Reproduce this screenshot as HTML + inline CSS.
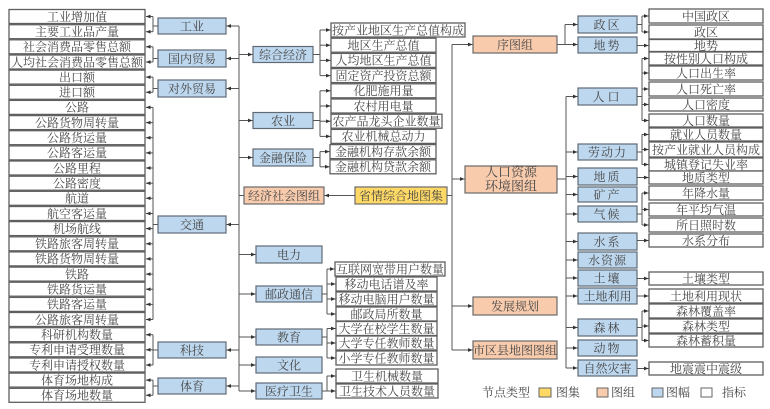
<!DOCTYPE html>
<html><head><meta charset="utf-8">
<style>
html,body{margin:0;padding:0;background:#fff;}
svg{display:block;}
text{font-family:"Liberation Serif","Noto Serif CJK SC","Noto Sans CJK SC",serif;font-size:12px;fill:#474747;text-anchor:middle;}
.i rect{fill:#fff;stroke:#5f5f5f;stroke-width:1.3;}
.b rect{fill:#BDD7EE;stroke:#5f6a75;stroke-width:1.2;}
.o rect{fill:#F8CBAD;stroke:#6a6a6a;stroke-width:1.2;}
.y rect{fill:#FFD966;stroke:#6a6a6a;stroke-width:1.2;}
.l path{fill:none;stroke:#555;stroke-width:1;}
.a path{fill:none;stroke:#555;stroke-width:1;marker-end:url(#ah);}
.lg text{text-anchor:start;}
</style></head><body>
<svg width="770" height="409" viewBox="0 0 770 409" xmlns="http://www.w3.org/2000/svg">
<defs><marker id="ah" viewBox="0 0 6 6" refX="6" refY="3" markerWidth="4.5" markerHeight="4.5" markerUnits="userSpaceOnUse" orient="auto"><path d="M0,0.5L6,3L0,5.5z" fill="#333"/></marker></defs>

<!-- LEFT INDICATORS -->
<g class="i">
<rect x="9" y="9.5" width="136" height="14"/><text x="77" y="20.8">工业增加值</text>
<rect x="9" y="24.7" width="136" height="14"/><text x="77" y="36">主要工业品产量</text>
<rect x="9" y="39.8" width="136" height="14"/><text x="77" y="51.1">社会消费品零售总额</text>
<rect x="9" y="55" width="136" height="14"/><text x="77" y="66.3">人均社会消费品零售总额</text>
<rect x="9" y="70.1" width="136" height="14"/><text x="77" y="81.4">出口额</text>
<rect x="9" y="85.3" width="136" height="14"/><text x="77" y="96.6">进口额</text>
<rect x="9" y="100.4" width="136" height="14"/><text x="77" y="111.7">公路</text>
<rect x="9" y="115.6" width="136" height="14"/><text x="77" y="126.9">公路货物周转量</text>
<rect x="9" y="130.7" width="136" height="14"/><text x="77" y="142">公路货运量</text>
<rect x="9" y="145.9" width="136" height="14"/><text x="77" y="157.2">公路客运量</text>
<rect x="9" y="161" width="136" height="14"/><text x="77" y="172.3">公路里程</text>
<rect x="9" y="176.2" width="136" height="14"/><text x="77" y="187.5">公路密度</text>
<rect x="9" y="191.3" width="136" height="14"/><text x="77" y="202.6">航道</text>
<rect x="9" y="206.5" width="136" height="14"/><text x="77" y="217.8">航空客运量</text>
<rect x="9" y="221.6" width="136" height="14"/><text x="77" y="232.9">机场航线</text>
<rect x="9" y="236.8" width="136" height="14"/><text x="77" y="248.1">铁路旅客周转量</text>
<rect x="9" y="251.9" width="136" height="14"/><text x="77" y="263.2">铁路货物周转量</text>
<rect x="9" y="267.1" width="136" height="14"/><text x="77" y="278.4">铁路</text>
<rect x="9" y="282.2" width="136" height="14"/><text x="77" y="293.5">铁路货运量</text>
<rect x="9" y="297.4" width="136" height="14"/><text x="77" y="308.7">铁路客运量</text>
<rect x="9" y="312.5" width="136" height="14"/><text x="77" y="323.8">公路旅客周转量</text>
<rect x="9" y="327.7" width="136" height="14"/><text x="77" y="339">科研机构数量</text>
<rect x="9" y="342.8" width="136" height="14"/><text x="77" y="354.1">专利申请受理数量</text>
<rect x="9" y="358" width="136" height="14"/><text x="77" y="369.3">专利申请授权数量</text>
<rect x="9" y="373.1" width="136" height="14"/><text x="77" y="384.4">体育场地构成</text>
<rect x="9" y="388.3" width="136" height="14"/><text x="77" y="399.6">体育场地数量</text>
</g>

<!-- LEFT BRACKETS -->
<g class="l"><path d="M153 16.5V31.7M158 26H153M153 46.8V62M158 58.5H153M153 77.1V92.3M158 88.5H153M153 107.4V319.5M158 224.5H153M153 334.7V365M158 350H153M153 380.1V395.3M158 386H153"/></g>
<g class="a">
<path d="M153 16.5H146"/><path d="M153 31.7H146"/><path d="M153 46.8H146"/><path d="M153 62H146"/><path d="M153 77.1H146"/><path d="M153 92.3H146"/>
<path d="M153 107.4H146"/><path d="M153 122.6H146"/><path d="M153 137.7H146"/><path d="M153 152.9H146"/><path d="M153 168H146"/><path d="M153 183.2H146"/><path d="M153 198.3H146"/><path d="M153 213.5H146"/><path d="M153 228.6H146"/><path d="M153 243.8H146"/><path d="M153 258.9H146"/><path d="M153 274.1H146"/><path d="M153 289.2H146"/><path d="M153 304.4H146"/><path d="M153 319.5H146"/>
<path d="M153 334.7H146"/><path d="M153 349.8H146"/><path d="M153 365H146"/><path d="M153 380.1H146"/><path d="M153 395.3H146"/>
</g>

<!-- LEFT CATEGORIES -->
<g class="b">
<rect x="158" y="18" width="68" height="16"/><text x="192" y="30.3">工业</text>
<rect x="158" y="50" width="68" height="17"/><text x="192" y="62.8">国内贸易</text>
<rect x="158" y="80" width="68" height="17"/><text x="192" y="92.8">对外贸易</text>
<rect x="158" y="216" width="68" height="17"/><text x="192" y="228.8">交通</text>
<rect x="158" y="342" width="68" height="16"/><text x="192" y="354.3">科技</text>
<rect x="158" y="378" width="68" height="16"/><text x="192" y="390.3">体育</text>
</g>

<!-- ECONOMY TRUNK -->
<g class="l"><path d="M239 26V391M239 195.5H244"/></g>
<g class="a">
<path d="M239 26H226.5"/><path d="M239 58.5H226.5"/><path d="M239 88.5H226.5"/><path d="M239 224.5H226.5"/><path d="M239 350H226.5"/><path d="M239 386H226.5"/>
<path d="M239 54.5H252.5"/><path d="M239 120.5H252.5"/><path d="M239 157.5H252.5"/><path d="M239 254.5H255.5"/><path d="M239 294H255.5"/><path d="M239 337H255.5"/><path d="M239 365H255.5"/><path d="M239 391H255.5"/>
</g>

<!-- MIDDLE CATEGORIES -->
<g class="b">
<rect x="253" y="46.5" width="60" height="16"/><text x="283" y="58.8">综合经济</text>
<rect x="253" y="112.5" width="60" height="16"/><text x="283" y="124.8">农业</text>
<rect x="253" y="149" width="60" height="17"/><text x="283" y="161.8">金融保险</text>
<rect x="256" y="246" width="66" height="17"/><text x="289" y="258.8">电力</text>
<rect x="256" y="286" width="66" height="16"/><text x="289" y="298.3">邮政通信</text>
<rect x="256" y="329" width="66" height="16"/><text x="289" y="341.3">教育</text>
<rect x="256" y="357" width="66" height="16"/><text x="289" y="369.3">文化</text>
<rect x="256" y="383" width="66" height="16"/><text x="289" y="395.3">医疗卫生</text>
</g>

<!-- GROUP A INDICATORS -->
<g class="i">
<rect x="331" y="23" width="134" height="14"/><text x="398" y="34.3">按产业地区生产总值构成</text>
<rect x="331" y="38.2" width="105" height="14"/><text x="383.5" y="49.5">地区生产总值</text>
<rect x="331" y="53.4" width="105" height="14"/><text x="383.5" y="64.7">人均地区生产总值</text>
<rect x="331" y="68.6" width="105" height="14"/><text x="383.5" y="79.9">固定资产投资总额</text>
<rect x="331" y="83.8" width="105" height="14"/><text x="383.5" y="95.1">化肥施用量</text>
<rect x="331" y="99" width="105" height="14"/><text x="383.5" y="110.3">农村用电量</text>
<rect x="331" y="114.2" width="111" height="14"/><text x="386.5" y="125.5">农产品龙头企业数量</text>
<rect x="331" y="129.4" width="105" height="14"/><text x="383.5" y="140.7">农业机械总动力</text>
<rect x="330" y="144.6" width="106" height="14"/><text x="383" y="155.9">金融机构存款余额</text>
<rect x="330" y="159.8" width="106" height="14"/><text x="383" y="171.1">金融机构贷款余额</text>
</g>
<g class="l"><path d="M313 54.5H320M320 30V75.6M313 120.5H320M320 90.8V136.4M313 157.5H320M320 151.6V166.8"/></g>
<g class="a">
<path d="M320 30H330.5"/><path d="M320 45.2H330.5"/><path d="M320 60.4H330.5"/><path d="M320 75.6H330.5"/>
<path d="M320 90.8H330.5"/><path d="M320 106H330.5"/><path d="M320 121.2H330.5"/><path d="M320 136.4H330.5"/>
<path d="M320 151.6H329.5"/><path d="M320 166.8H329.5"/>
</g>

<!-- GROUP B INDICATORS -->
<g class="i">
<rect x="335" y="262" width="110" height="14"/><text x="390" y="273.3">互联网宽带用户数量</text>
<rect x="336" y="277" width="101" height="14"/><text x="386.5" y="288.3">移动电话谱及率</text>
<rect x="336" y="292" width="101" height="14"/><text x="386.5" y="303.3">移动电脑用户数量</text>
<rect x="336" y="307" width="101" height="14"/><text x="386.5" y="318.3">邮政局所数量</text>
<rect x="336" y="321.5" width="101" height="14"/><text x="386.5" y="332.8">大学在校学生数量</text>
<rect x="336" y="336" width="101" height="14"/><text x="386.5" y="347.3">大学专任教师数量</text>
<rect x="336" y="351" width="101" height="14"/><text x="386.5" y="362.3">小学专任教师数量</text>
<rect x="336" y="369" width="102" height="14"/><text x="387" y="380.3">卫生机械数量</text>
<rect x="336" y="384" width="102" height="14"/><text x="387" y="395.3">卫生技术人员数量</text>
</g>
<g class="l"><path d="M322 294H327M327 269V314M322 337H327M327 328.5V358M322 391H327M327 376V391"/></g>
<g class="a">
<path d="M327 269H334.5"/><path d="M327 284H335.5"/><path d="M327 299H335.5"/><path d="M327 314H335.5"/>
<path d="M327 328.5H335.5"/><path d="M327 343H335.5"/><path d="M327 358H335.5"/>
<path d="M327 376H335.5"/><path d="M327 391H335.5"/>
</g>

<!-- CENTER -->
<g class="o"><rect x="244" y="187" width="80" height="17"/><text x="284" y="199.8">经济社会图组</text></g>
<g class="y"><rect x="355" y="187" width="92" height="17"/><text x="401" y="199.8">省情综合地图集</text></g>
<g class="a"><path d="M355 195.5H324.5"/></g>
<g class="l"><path d="M447 195.5H452M452 44.5V350"/></g>
<g class="a"><path d="M452 44.5H472.5"/><path d="M452 179H464.5"/><path d="M452 306H472.5"/><path d="M452 350H472.5"/></g>

<g class="o">
<rect x="473" y="36" width="84" height="17"/><text x="515" y="48.8">序图组</text>
<rect x="465" y="166" width="92" height="27"/><text x="511" y="176.5" style="font-size:13px">人口资源</text><text x="511" y="190.5" style="font-size:13px">环境图组</text>
<rect x="473" y="297" width="84" height="18"/><text x="515" y="310.3">发展规划</text>
<rect x="473" y="341" width="84" height="18"/><text x="515" y="354.3">市区县地图图组</text>
</g>

<!-- RIGHT TRUNKS -->
<g class="l"><path d="M557 44.5H565M565 24.5V44.5M557 179H566M566 96.5V368"/></g>
<g class="a">
<path d="M565 24.5H577.5"/><path d="M565 44.5H577.5"/>
<path d="M566 96.5H577.5"/><path d="M566 152H577.5"/><path d="M566 176.5H577.5"/><path d="M566 194.5H577.5"/><path d="M566 214H577.5"/><path d="M566 241.5H577.5"/><path d="M566 260H577.5"/><path d="M566 278H577.5"/><path d="M566 296H577.5"/><path d="M566 327.5H577.5"/><path d="M566 348H577.5"/><path d="M566 368H577.5"/>
</g>

<!-- RIGHT CATEGORIES -->
<g class="b">
<rect x="578" y="16" width="59" height="17"/><text x="607.5" y="28.8" style="letter-spacing:2px">政区</text>
<rect x="578" y="37" width="59" height="16"/><text x="607.5" y="49.3" style="letter-spacing:2px">地势</text>
<rect x="578" y="88" width="59" height="17"/><text x="607.5" y="100.8" style="letter-spacing:3px">人口</text>
<rect x="578" y="144" width="59" height="16"/><text x="607.5" y="156.3" style="letter-spacing:1px">劳动力</text>
<rect x="578" y="168" width="59" height="17"/><text x="607.5" y="180.8" style="letter-spacing:2px">地质</text>
<rect x="578" y="187" width="59" height="15"/><text x="607.5" y="198.8" style="letter-spacing:2px">矿产</text>
<rect x="578" y="206" width="59" height="16"/><text x="607.5" y="218.3" style="letter-spacing:2px">气候</text>
<rect x="578" y="233" width="59" height="17"/><text x="607.5" y="245.8" style="letter-spacing:2px">水系</text>
<rect x="578" y="252" width="59" height="16"/><text x="607.5" y="264.3" style="letter-spacing:1px">水资源</text>
<rect x="578" y="270" width="59" height="16"/><text x="607.5" y="282.3" style="letter-spacing:2px">土壤</text>
<rect x="578" y="288" width="59" height="16"/><text x="607.5" y="300.3">土地利用</text>
<rect x="578" y="319" width="59" height="17"/><text x="607.5" y="331.8" style="letter-spacing:2px">森林</text>
<rect x="578" y="340" width="59" height="16"/><text x="607.5" y="352.3" style="letter-spacing:2px">动物</text>
<rect x="578" y="360" width="59" height="16"/><text x="607.5" y="372.3">自然灾害</text>
</g>

<!-- RIGHT INDICATORS -->
<g class="i">
<rect x="649" y="9" width="114" height="14"/><text x="706" y="20.3">中国政区</text>
<rect x="649" y="25" width="114" height="14"/><text x="706" y="36.3">政区</text>
<rect x="649" y="39.5" width="114" height="12"/><text x="706" y="49.8">地势</text>
<rect x="649" y="52" width="114" height="13"/><text x="706" y="62.8">按性别人口构成</text>
<rect x="649" y="66" width="114" height="14"/><text x="706" y="77.3">人口出生率</text>
<rect x="649" y="82" width="114" height="14"/><text x="706" y="93.3">人口死亡率</text>
<rect x="649" y="98" width="114" height="13"/><text x="706" y="108.8">人口密度</text>
<rect x="649" y="114" width="114" height="13"/><text x="706" y="124.8">人口数量</text>
<rect x="649" y="128" width="114" height="13"/><text x="706" y="138.8">就业人员数量</text>
<rect x="649" y="142" width="114" height="15"/><text x="706" y="153.8">按产业就业人员构成</text>
<rect x="649" y="158" width="114" height="13"/><text x="706" y="168.8">城镇登记失业率</text>
<rect x="649" y="171" width="114" height="13"/><text x="706" y="181.8">地质类型</text>
<rect x="649" y="186" width="114" height="14"/><text x="706" y="197.3">年降水量</text>
<rect x="649" y="203" width="114" height="13"/><text x="706" y="213.8">年平均气温</text>
<rect x="649" y="218" width="114" height="14"/><text x="706" y="229.3">所日照时数</text>
<rect x="649" y="234" width="114" height="13"/><text x="706" y="244.8">水系分布</text>
<rect x="649" y="272" width="114" height="13"/><text x="706" y="282.8">土壤类型</text>
<rect x="649" y="289" width="114" height="14"/><text x="706" y="300.3">土地利用现状</text>
<rect x="649" y="304" width="114" height="14"/><text x="706" y="315.3">森林覆盖率</text>
<rect x="649" y="319" width="114" height="14"/><text x="706" y="330.3">森林类型</text>
<rect x="649" y="334" width="114" height="13"/><text x="706" y="344.8">森林蓄积量</text>
<rect x="649" y="362" width="114" height="13"/><text x="706" y="372.8">地震震中震级</text>
</g>
<g class="l"><path d="M637 24.5H642M642 16V32M637 96.5H642M642 58.5V120.5M637 152H642M642 134.5V164.5M637 214H642M642 193V225M637 327.5H642M642 311V340.5"/></g>
<g class="a">
<path d="M642 16H648.5"/><path d="M642 32H648.5"/>
<path d="M637 45.5H648.5"/>
<path d="M642 58.5H648.5"/><path d="M642 73H648.5"/><path d="M642 89H648.5"/><path d="M642 104.5H648.5"/><path d="M642 120.5H648.5"/>
<path d="M642 134.5H648.5"/><path d="M642 149.5H648.5"/><path d="M642 164.5H648.5"/>
<path d="M637 177.5H648.5"/>
<path d="M642 193H648.5"/><path d="M642 209.5H648.5"/><path d="M642 225H648.5"/>
<path d="M637 240.5H648.5"/>
<path d="M637 278.5H648.5"/>
<path d="M637 296H648.5"/>
<path d="M642 311H648.5"/><path d="M642 326H648.5"/><path d="M642 340.5H648.5"/>
<path d="M637 368.5H648.5"/>
</g>

<!-- LEGEND -->
<g class="lg">
<text x="482" y="396.5">节点类型</text>
<rect x="539" y="388" width="12" height="9" fill="#FFD966" stroke="#666" stroke-width="1"/>
<text x="556" y="396.5">图集</text>
<rect x="597" y="388" width="11" height="9" fill="#F8CBAD" stroke="#666" stroke-width="1"/>
<text x="611" y="396.5">图组</text>
<rect x="652" y="388" width="11" height="9" fill="#BDD7EE" stroke="#666" stroke-width="1"/>
<text x="666" y="396.5">图幅</text>
<rect x="701" y="388" width="11" height="9" fill="#fff" stroke="#666" stroke-width="1"/>
<text x="722" y="396.5">指标</text>
</g>
</svg>
</body></html>
